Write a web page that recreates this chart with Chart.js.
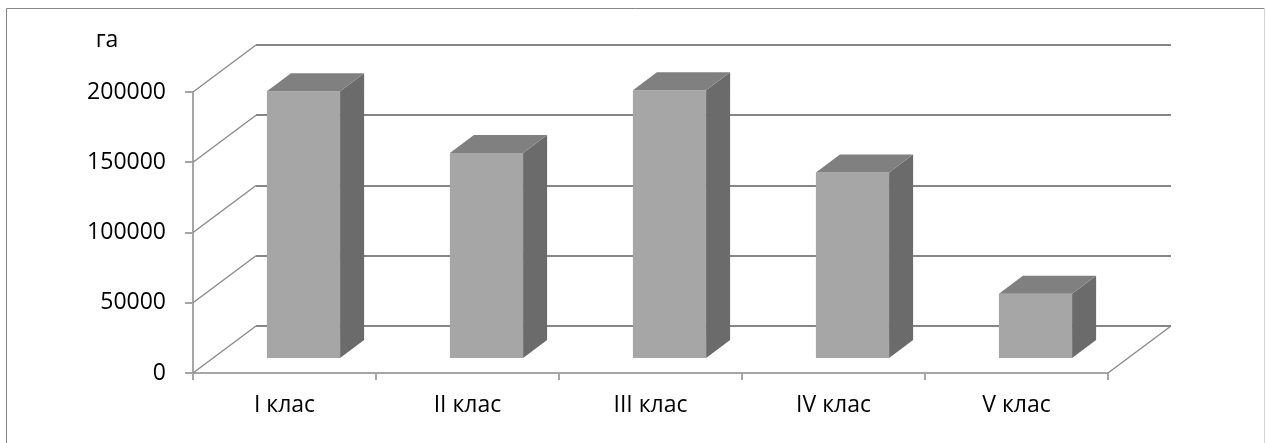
<!DOCTYPE html>
<html lang="uk">
<head>
<meta charset="utf-8">
<title>Площа за класами</title>
<script src="https://cdn.jsdelivr.net/npm/chart.js@4.4.1/dist/chart.umd.min.js"></script>
<style>
  html, body { margin: 0; padding: 0; background: #ffffff; }
  #wrap { width: 1266px; height: 443px; }
</style>
</head>
<body>
<div id="wrap"><canvas id="chart" width="1266" height="443"></canvas></div>
<script>
// Категорії та площі (га)
const categories = ['I клас', 'II клас', 'III клас', 'IV клас', 'V клас'];
const areas = [190500, 146600, 191200, 132800, 46500];
const yTicks = [0, 50000, 100000, 150000, 200000];
const unitLabel = 'га';

// Oblique 3D projection: depth of the whole plot box, offset of the bar
// front faces from the front plane and the thickness of each bar.
const DEPTH = { x: 63, y: -47 };
const BAR_SHIFT = { x: 19, y: -14 };
const BAR_DEPTH = { x: 24, y: -18 };

const FONT = { family: '"Open Sans", "Noto Sans", sans-serif', size: 23 };

const frame = {
  id: 'frame',
  beforeDraw(chart) {
    const ctx = chart.ctx;
    ctx.save();
    ctx.lineWidth = 1;
    ctx.strokeStyle = '#868686';
    ctx.beginPath();
    ctx.moveTo(6.5, 460);
    ctx.lineTo(6.5, 8.5);
    ctx.lineTo(1264.5, 8.5);
    ctx.stroke();
    ctx.strokeStyle = '#d4d4d4';
    ctx.beginPath();
    ctx.moveTo(1264.5, 8.5);
    ctx.lineTo(1264.5, 460);
    ctx.stroke();
    // unit caption above the value axis
    ctx.fillStyle = '#000000';
    ctx.font = FONT.size + 'px ' + FONT.family;
    ctx.textAlign = 'center';
    ctx.textBaseline = 'alphabetic';
    ctx.fillText(unitLabel, 107, 47);
    ctx.restore();
  }
};

const box3d = {
  id: 'box3d',
  beforeDatasetsDraw(chart) {
    const ctx = chart.ctx;
    const { left, right } = chart.chartArea;
    const ys = chart.scales.y;
    ctx.save();
    // side wall diagonals
    ctx.strokeStyle = '#8c8c8c';
    ctx.lineWidth = 1.5;
    yTicks.forEach(v => {
      const yf = ys.getPixelForValue(v);
      ctx.beginPath();
      ctx.moveTo(left, yf);
      ctx.lineTo(left + DEPTH.x, yf + DEPTH.y);
      ctx.stroke();
    });
    // floor edge on the right
    const y0 = ys.getPixelForValue(0);
    ctx.beginPath();
    ctx.moveTo(right, y0);
    ctx.lineTo(right + DEPTH.x, y0 + DEPTH.y);
    ctx.stroke();
    // back wall gridlines
    ctx.strokeStyle = '#868686';
    ctx.lineWidth = 2;
    yTicks.forEach(v => {
      const yb = Math.round(ys.getPixelForValue(v) + DEPTH.y);
      ctx.beginPath();
      ctx.moveTo(left + DEPTH.x, yb);
      ctx.lineTo(right + DEPTH.x, yb);
      ctx.stroke();
    });
    ctx.restore();
    // bars are drawn in the plane set back into the box
    ctx.save();
    ctx.translate(BAR_SHIFT.x, BAR_SHIFT.y);
  },
  afterDatasetsDraw(chart) {
    const ctx = chart.ctx;
    chart.getDatasetMeta(0).data.forEach(bar => {
      const p = bar.getProps(['x', 'y', 'base', 'width'], true);
      const l = p.x - p.width / 2;
      const r = p.x + p.width / 2;
      const t = Math.min(p.y, p.base);
      const b = Math.max(p.y, p.base);
      // right side face
      ctx.fillStyle = '#6b6b6b';
      ctx.beginPath();
      ctx.moveTo(r, t);
      ctx.lineTo(r + BAR_DEPTH.x, t + BAR_DEPTH.y);
      ctx.lineTo(r + BAR_DEPTH.x, b + BAR_DEPTH.y);
      ctx.lineTo(r, b);
      ctx.closePath();
      ctx.fill();
      // top face
      ctx.fillStyle = '#808080';
      ctx.beginPath();
      ctx.moveTo(l, t);
      ctx.lineTo(l + BAR_DEPTH.x, t + BAR_DEPTH.y);
      ctx.lineTo(r + BAR_DEPTH.x, t + BAR_DEPTH.y);
      ctx.lineTo(r, t);
      ctx.closePath();
      ctx.fill();
    });
    ctx.restore();
  }
};

new Chart(document.getElementById('chart'), {
  type: 'bar',
  data: {
    labels: categories,
    datasets: [{
      data: areas,
      backgroundColor: '#a6a6a6',
      borderWidth: 0,
      categoryPercentage: 1,
      barPercentage: 0.4,
      clip: false
    }]
  },
  options: {
    responsive: false,
    devicePixelRatio: 1,
    animation: false,
    events: [],
    layout: { padding: { top: 92, right: 158, bottom: 0, left: 0 } },
    plugins: {
      legend: { display: false },
      tooltip: { enabled: false },
      title: { display: false }
    },
    scales: {
      x: {
        type: 'category',
        offset: true,
        grid: {
          offset: true,
          drawOnChartArea: false,
          drawTicks: true,
          tickLength: 7,
          color: '#a6a6a6',
          lineWidth: 2
        },
        border: { display: true, color: '#a6a6a6', width: 2 },
        ticks: { color: '#000000', font: FONT, padding: 12, maxRotation: 0 },
        afterFit(s) { s.height = 70; }
      },
      y: {
        min: 0,
        max: 200000,
        afterBuildTicks(s) { s.ticks = yTicks.map(v => ({ value: v })); },
        grid: {
          drawOnChartArea: false,
          drawTicks: true,
          tickLength: 8,
          color: '#a6a6a6',
          lineWidth: 2
        },
        border: { display: true, color: '#a6a6a6', width: 2 },
        ticks: {
          color: '#000000',
          font: FONT,
          padding: 19,
          callback: v => String(v)
        },
        afterFit(s) { s.width = 193; }
      }
    }
  },
  plugins: [frame, box3d]
});
</script>
</body>
</html>
